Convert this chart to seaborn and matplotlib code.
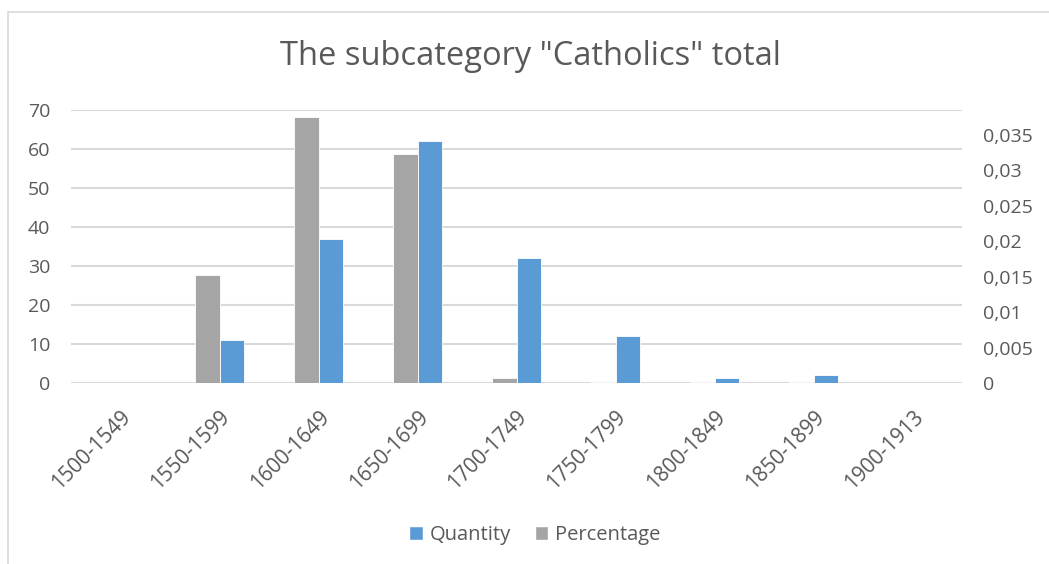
import numpy as np
import pandas as pd
import matplotlib
matplotlib.use("Agg")
import matplotlib.pyplot as plt
from matplotlib.lines import Line2D
from matplotlib.patches import Patch
import seaborn as sns

# data
periods = ["1500-1549", "1550-1599", "1600-1649", "1650-1699", "1700-1749",
           "1750-1799", "1800-1849", "1850-1899", "1900-1913"]
quantity = [0, 11, 37, 62, 32, 12, 1.2, 2, 0]
percentage = [0, 0.0153, 0.0375, 0.0323, 0.0007, 0.0002, 0.0002, 0.0002, 0]

right_ticks = [0, 0.005, 0.01, 0.015, 0.02, 0.025, 0.03, 0.035]
right_labels = ["0", "0,005", "0,01", "0,015", "0,02", "0,025", "0,03", "0,035"]

blue = "#5B9BD5"
grey = "#A5A5A5"
text_col = "#595959"
grid_col = "#D9D9D9"

sns.set_style("white")
plt.rcParams["font.family"] = ["Open Sans", "DejaVu Sans"]

# long table, each series only has values on its own axis
df_q = pd.DataFrame({"period": periods, "series": "Quantity", "value": quantity})
df_p = pd.DataFrame({"period": periods, "series": "Percentage", "value": percentage})
hue_order = ["Percentage", "Quantity"]
pal = {"Quantity": blue, "Percentage": grey}

W, H = 1049, 564
fig = plt.figure(figsize=(W / 100, H / 100), dpi=100)
ax = fig.add_axes([71 / W, 1 - 383 / H, 891 / W, 273 / H])
ax2 = ax.twinx()

sns.barplot(data=df_q, x="period", y="value", hue="series", hue_order=hue_order,
            order=periods, palette=pal, width=0.49, dodge=True, ax=ax,
            legend=False, saturation=1, edgecolor="white", linewidth=0.6)
sns.barplot(data=df_p, x="period", y="value", hue="series", hue_order=hue_order,
            order=periods, palette=pal, width=0.49, dodge=True, ax=ax2,
            legend=False, saturation=1, edgecolor="white", linewidth=0.6)

ax.set_ylim(0, 70)
ax.set_yticks(range(0, 71, 10))
ax2.set_ylim(0, 0.0385)
ax2.set_yticks(right_ticks)
ax2.set_yticklabels(right_labels)
ax.set_xlim(-0.5, len(periods) - 0.5)

ax.yaxis.grid(True, color=grid_col, linewidth=1.5)
ax.set_axisbelow(True)
for a in (ax, ax2):
    for s in a.spines.values():
        s.set_visible(False)
    a.set_xlabel("")
    a.set_ylabel("")
ax.tick_params(axis="y", length=0, pad=15, labelsize=14, labelcolor=text_col)
ax2.tick_params(axis="y", length=0, pad=15, labelsize=14, labelcolor=text_col)
ax.tick_params(axis="x", length=0, pad=17, labelsize=15, labelcolor=text_col)
plt.setp(ax.get_xticklabels(), rotation=45, ha="right", va="top",
         rotation_mode="anchor")

fig.text(530 / W, 1 - 65 / H, 'The subcategory "Catholics" total', ha="center",
         va="baseline", fontsize=23.5, color=text_col)

handles = [Patch(facecolor=blue), Patch(facecolor=grey)]
fig.legend(handles, ["Quantity", "Percentage"], loc="center",
           bbox_to_anchor=(535 / W, 1 - 535 / H), ncol=2, frameon=False,
           fontsize=14.5, labelcolor=text_col, handlelength=0.68,
           handleheight=0.68, handletextpad=0.35, columnspacing=1.15,
           borderpad=0, borderaxespad=0)

# light chart border like the spreadsheet frame
fig.add_artist(Line2D([8 / W, 1], [1 - 12 / H, 1 - 12 / H], color=grid_col, lw=1.2))
fig.add_artist(Line2D([8 / W, 8 / W], [0, 1 - 12 / H], color=grid_col, lw=1.2))

fig.savefig("out.png", dpi=100)
